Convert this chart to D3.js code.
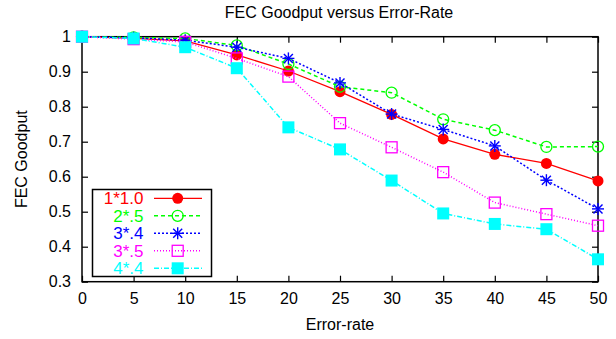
<!DOCTYPE html>
<html>
<head>
<meta charset="utf-8">
<script src="https://cdn.jsdelivr.net/npm/d3@7"></script>
<style>
  html, body { margin: 0; padding: 0; background: #fff; }
  svg { display: block; font-family: "Liberation Sans", Arial, sans-serif; }
</style>
</head>
<body>
<svg id="chart" width="616" height="339"></svg>
<script>
// Error rates (x) and goodput for each FEC configuration
const errorRates = [0, 5, 10, 15, 20, 25, 30, 35, 40, 45, 50];
const seriesNames = ["1*1.0", "2*.5", "3*.4", "3*.5", "4*.4"];
const goodput_1x10 = [1.0, 0.995, 0.988, 0.948, 0.902, 0.843, 0.778, 0.708, 0.664, 0.638, 0.588];
const goodput_2x05 = [1.0, 0.998, 0.995, 0.975, 0.922, 0.857, 0.840, 0.764, 0.733, 0.685, 0.686];
const goodput_3x04 = [1.0, 0.997, 0.990, 0.970, 0.938, 0.868, 0.779, 0.735, 0.688, 0.590, 0.508];
const goodput_3x05 = [1.0, 0.993, 0.985, 0.938, 0.886, 0.753, 0.684, 0.613, 0.526, 0.493, 0.460];
const goodput_4x04 = [1.0, 0.995, 0.970, 0.910, 0.741, 0.678, 0.589, 0.495, 0.465, 0.450, 0.364];
const xTicks = [0, 5, 10, 15, 20, 25, 30, 35, 40, 45, 50];
const yTicks = [0.3, 0.4, 0.5, 0.6, 0.7, 0.8, 0.9, 1];

const seriesValues = [goodput_1x10, goodput_2x05, goodput_3x04, goodput_3x05, goodput_4x04];
const colors = ["#ff0000", "#00ff00", "#0000ff", "#ff00ff", "#00ffff"];
const dashes = [null, "4,3", "2,2", "1,2", "5,2,1,2"];
const markers = ["filledCircle", "openCircle", "star", "openSquare", "filledSquare"];

const svg = d3.select("#chart");
const margin = { left: 82, right: 18, top: 36.7, bottom: 57.3 };
const W = 616, H = 339;

const x = d3.scaleLinear().domain([0, 50]).range([margin.left, W - margin.right]);
const y = d3.scaleLinear().domain([0.3, 1]).range([H - margin.bottom, margin.top]);

// Title
svg.append("text").attr("x", 339).attr("y", 18).attr("text-anchor", "middle")
  .attr("font-size", 16).text("FEC Goodput versus Error-Rate");

// Axis labels
svg.append("text").attr("x", 340).attr("y", 330).attr("text-anchor", "middle")
  .attr("font-size", 16).text("Error-rate");
svg.append("text").attr("transform", "translate(27," + ((y(1) + y(0.3)) / 2) + ") rotate(-90)")
  .attr("text-anchor", "middle").attr("font-size", 16).text("FEC Goodput");

// Axes with inward ticks on all four sides
const tickLen = 6;

const axisBottomG = svg.append("g").attr("transform", `translate(0,${y(0.3)})`)
  .call(d3.axisBottom(x).tickValues(xTicks).tickSize(-tickLen).tickPadding(11).tickFormat(d3.format("d")));
const axisTopG = svg.append("g").attr("transform", `translate(0,${y(1)})`)
  .call(d3.axisTop(x).tickValues(xTicks).tickSize(-tickLen).tickFormat(""));
const axisLeftG = svg.append("g").attr("transform", `translate(${x(0)},0)`)
  .call(d3.axisLeft(y).tickValues(yTicks).tickSize(-tickLen).tickPadding(11).tickFormat(d => d === 1 ? "1" : d3.format(".1f")(d)));
const axisRightG = svg.append("g").attr("transform", `translate(${x(50)},0)`)
  .call(d3.axisRight(y).tickValues(yTicks).tickSize(-tickLen).tickFormat(""));

[axisBottomG, axisTopG, axisLeftG, axisRightG].forEach(g => {
  g.select(".domain").remove();
  g.selectAll(".tick line").attr("stroke", "#000").attr("stroke-width", 1.2);
  g.selectAll(".tick text").attr("font-size", 16).attr("fill", "#000")
    .attr("font-family", "Liberation Sans, Arial, sans-serif");
});
// frame
svg.append("rect").attr("x", x(0)).attr("y", y(1)).attr("width", x(50) - x(0)).attr("height", y(0.3) - y(1))
  .attr("fill", "none").attr("stroke", "#000").attr("stroke-width", 1.5);

// Marker drawing
function drawMarker(g, type, cx, cy, color) {
  if (type === "filledCircle") {
    g.append("circle").attr("cx", cx).attr("cy", cy).attr("r", 5.5).attr("fill", color);
  } else if (type === "openCircle") {
    g.append("circle").attr("cx", cx).attr("cy", cy).attr("r", 5.5).attr("fill", "none")
      .attr("stroke", color).attr("stroke-width", 1.3);
  } else if (type === "star") {
    const s = 6;
    const p = g.append("g").attr("stroke", color).attr("stroke-width", 1.4);
    p.append("line").attr("x1", cx - s).attr("y1", cy).attr("x2", cx + s).attr("y2", cy);
    p.append("line").attr("x1", cx).attr("y1", cy - s).attr("x2", cx).attr("y2", cy + s);
    p.append("line").attr("x1", cx - s * 0.75).attr("y1", cy - s * 0.75).attr("x2", cx + s * 0.75).attr("y2", cy + s * 0.75);
    p.append("line").attr("x1", cx - s * 0.75).attr("y1", cy + s * 0.75).attr("x2", cx + s * 0.75).attr("y2", cy - s * 0.75);
  } else if (type === "openSquare") {
    g.append("rect").attr("x", cx - 5.5).attr("y", cy - 5.5).attr("width", 11).attr("height", 11)
      .attr("fill", "none").attr("stroke", color).attr("stroke-width", 1.3);
  } else if (type === "filledSquare") {
    g.append("rect").attr("x", cx - 6).attr("y", cy - 6).attr("width", 12).attr("height", 12).attr("fill", color);
  }
}

const line = d3.line().x((d, i) => x(errorRates[i])).y(d => y(d));
const plot = svg.append("g");
seriesValues.forEach((vals, k) => {
  const g = plot.append("g");
  g.append("path").attr("d", line(vals)).attr("fill", "none").attr("stroke", colors[k])
    .attr("stroke-width", k === 0 ? 1.3 : 1.5).attr("stroke-dasharray", dashes[k]);
  vals.forEach((v, i) => drawMarker(g, markers[k], x(errorRates[i]), y(v), colors[k]));
});

// Legend
const lg = svg.append("g");
lg.append("rect").attr("x", 92.5).attr("y", 189.5).attr("width", 119).attr("height", 87)
  .attr("fill", "#fff").attr("stroke", "#000").attr("stroke-width", 1.5);
seriesNames.forEach((name, k) => {
  const ry = 198.3 + k * 17.5;
  lg.append("text").attr("x", 143.5).attr("y", ry + 6).attr("text-anchor", "end")
    .attr("font-size", 17).attr("fill", colors[k]).text(name);
  lg.append("line").attr("x1", 154).attr("x2", 202).attr("y1", ry).attr("y2", ry)
    .attr("stroke", colors[k]).attr("stroke-width", k === 0 ? 1.3 : 1.5).attr("stroke-dasharray", dashes[k]);
  drawMarker(lg, markers[k], 177.7, ry, colors[k]);
});
</script>
</body>
</html>
